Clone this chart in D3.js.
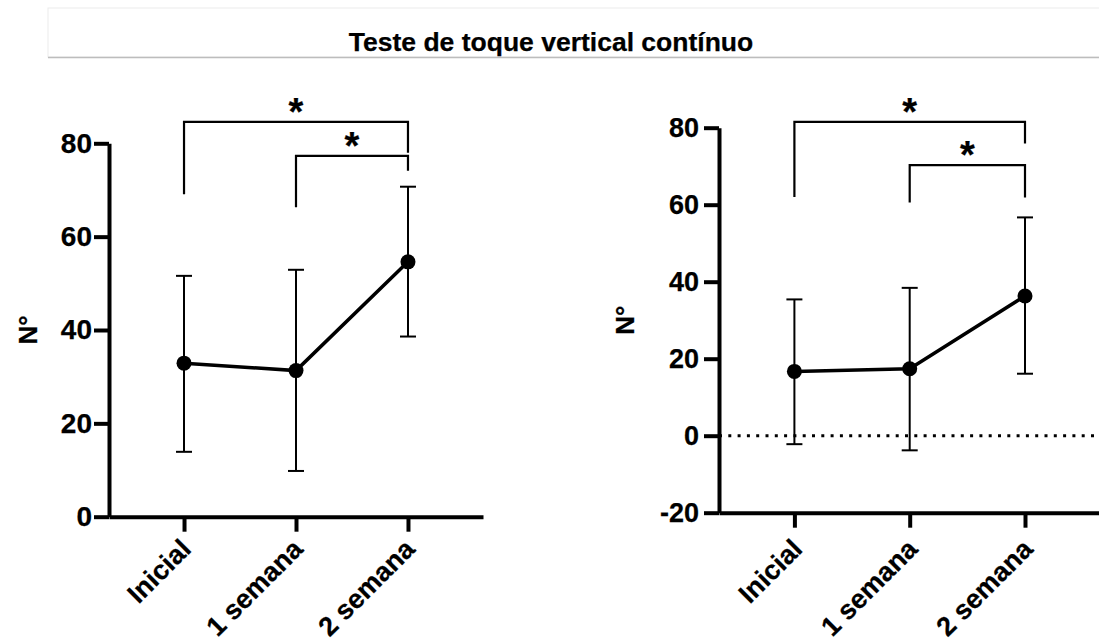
<!DOCTYPE html>
<html>
<head>
<meta charset="utf-8">
<script src="https://cdn.jsdelivr.net/npm/d3@7"></script>
<style>
  body { margin: 0; background: #fff; }
  text { font-family: "Liberation Sans", Arial, sans-serif; font-weight: bold; fill: #000; stroke: #000; stroke-width: 0.25px; }
</style>
</head>
<body>
<svg id="chart" width="1099" height="644"></svg>
<script>
var categories = ["Inicial", "1 semana", "2 semana"];

var leftMean  = [32.9, 31.3, 54.6];
var leftUpper = [51.6, 52.9, 70.7];
var leftLower = [13.9, 9.8, 38.6];

var rightMean  = [16.7, 17.4, 36.3];
var rightUpper = [35.4, 38.4, 56.7];
var rightLower = [-2.2, -3.8, 16.1];

var leftTicks  = [0, 20, 40, 60, 80];
var rightTicks = [-20, 0, 20, 40, 60, 80];

// significance brackets: [from, to, top, left leg end, right leg end]
var leftBrackets  = [[0, 2, 84.6, 69.1, 78.0], [1, 2, 77.3, 66.3, 74.1]];
var rightBrackets = [[0, 2, 81.5, 62.0, 75.9], [1, 2, 70.3, 60.6, 61.9]];

var svg = d3.select("#chart");

// title box
svg.append("rect")
    .attr("x", 48).attr("y", 8)
    .attr("width", 1070).attr("height", 49)
    .attr("fill", "#fff")
    .attr("stroke", "#ececec");
svg.append("line")
    .attr("x1", 48).attr("x2", 1099)
    .attr("y1", 57.5).attr("y2", 57.5)
    .attr("stroke", "#bdbdbd")
    .attr("stroke-width", 1.5);
svg.append("text")
    .attr("x", 551).attr("y", 51)
    .attr("text-anchor", "middle")
    .attr("font-size", "26.5px")
    .text("Teste de toque vertical contínuo");

function drawPanel(cfg) {
    var g = svg.append("g");

    var x = d3.scalePoint()
        .domain(categories)
        .range([cfg.left, cfg.right])
        .padding(cfg.pad);

    var y = d3.scaleLinear()
        .domain(cfg.domain)
        .range([cfg.bottom, cfg.top]);

    // dotted zero line
    if (cfg.zeroLine) {
        g.append("line")
            .attr("x1", cfg.left).attr("x2", 1099)
            .attr("y1", y(0)).attr("y2", y(0))
            .attr("stroke", "#000")
            .attr("stroke-width", 3)
            .attr("stroke-dasharray", "3,6.3");
    }

    // y axis (plain hyphen for negatives)
    var yAxis = g.append("g")
        .attr("transform", "translate(" + cfg.left + ",0)")
        .call(d3.axisLeft(y)
            .tickValues(cfg.ticks)
            .tickFormat(function(d) { return String(d); })
            .tickSize(15).tickSizeOuter(0).tickPadding(cfg.tickPad));
    yAxis.selectAll("path, line").attr("stroke", "#000").attr("stroke-width", 4);
    yAxis.selectAll("text").attr("font-size", cfg.font + "px").attr("font-family", null).attr("fill", null);

    // x axis
    var xAxis = g.append("g")
        .attr("transform", "translate(0," + cfg.bottom + ")")
        .call(d3.axisBottom(x).tickSize(15).tickSizeOuter(0));
    xAxis.selectAll("path, line").attr("stroke", "#000").attr("stroke-width", 4);
    xAxis.selectAll("text")
        .attr("font-size", "27px")
        .attr("font-family", null)
        .attr("fill", null)
        .attr("text-anchor", "end")
        .attr("x", 0).attr("y", 0).attr("dy", 0)
        .attr("transform", "translate(" + cfg.labelDx + "," + cfg.labelDy + ") rotate(-45)");

    // y title
    g.append("text")
        .attr("transform", "translate(" + cfg.titleX + "," + ((cfg.top + cfg.bottom) / 2) + ") rotate(-90)")
        .attr("text-anchor", "middle")
        .attr("font-size", "26px")
        .text("N°");

    // error bars
    var err = g.append("g").attr("stroke", "#000").attr("stroke-width", 2);
    categories.forEach(function(c, i) {
        err.append("line")
            .attr("x1", x(c)).attr("x2", x(c))
            .attr("y1", y(cfg.upper[i])).attr("y2", y(cfg.lower[i]));
        [cfg.upper[i], cfg.lower[i]].forEach(function(v) {
            err.append("line")
                .attr("x1", x(c) - 8).attr("x2", x(c) + 8)
                .attr("y1", y(v)).attr("y2", y(v));
        });
    });

    // mean line
    var line = d3.line()
        .x(function(d, i) { return x(categories[i]); })
        .y(function(d) { return y(d); });
    g.append("path")
        .datum(cfg.mean)
        .attr("fill", "none")
        .attr("stroke", "#000")
        .attr("stroke-width", 3.5)
        .attr("d", line);

    g.selectAll(".pt")
        .data(cfg.mean)
        .enter().append("circle")
        .attr("cx", function(d, i) { return x(categories[i]); })
        .attr("cy", function(d) { return y(d); })
        .attr("r", 7.5)
        .attr("fill", "#000");

    // significance brackets
    cfg.brackets.forEach(function(b) {
        var x0 = x(categories[b[0]]), x1 = x(categories[b[1]]);
        g.append("path")
            .attr("fill", "none")
            .attr("stroke", "#000")
            .attr("stroke-width", 2.2)
            .attr("d", "M" + x0 + "," + y(b[3]) + "V" + y(b[2]) + "H" + x1 + "V" + y(b[4]));
        g.append("text")
            .attr("x", (x0 + x1) / 2)
            .attr("y", y(b[2]) + 3)
            .attr("text-anchor", "middle")
            .attr("font-size", "38px")
            .text("*");
    });
}

drawPanel({
    left: 109, right: 483, pad: 0.67,
    top: 143.3, bottom: 516.7, domain: [0, 80],
    ticks: leftTicks, titleX: 37, font: 28, tickPad: 2,
    labelDx: 8, labelDy: 34,
    mean: leftMean, upper: leftUpper, lower: leftLower,
    brackets: leftBrackets, zeroLine: false
});

drawPanel({
    left: 719, right: 1100.4, pad: 0.654,
    top: 127.7, bottom: 512.7, domain: [-20, 80],
    ticks: rightTicks, titleX: 634, font: 27, tickPad: 5,
    labelDx: 9, labelDy: 38,
    mean: rightMean, upper: rightUpper, lower: rightLower,
    brackets: rightBrackets, zeroLine: true
});
</script>
</body>
</html>
